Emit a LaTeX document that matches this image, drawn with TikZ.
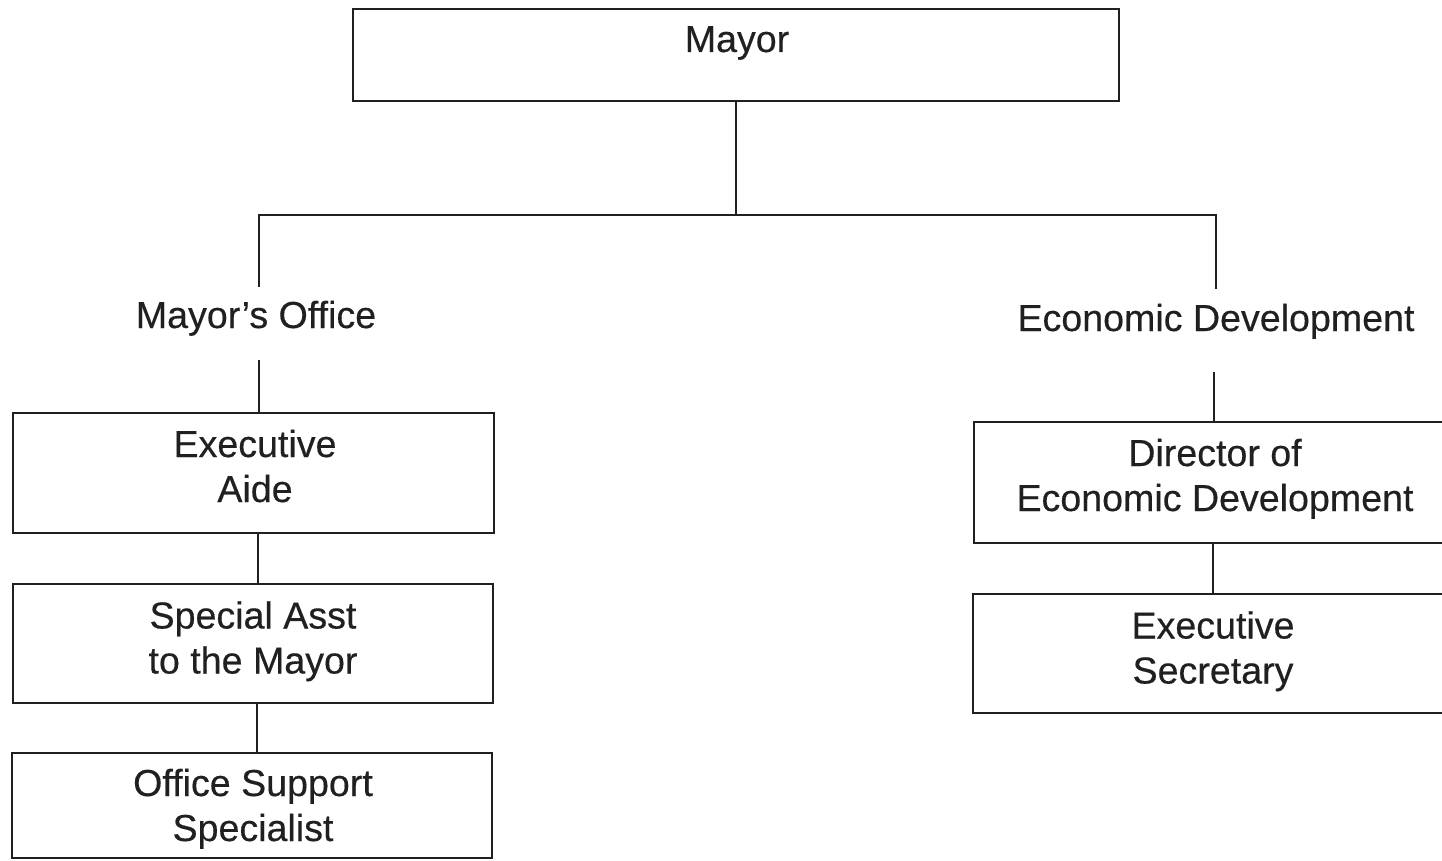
\documentclass[tikz,border=0pt]{standalone}
\usepackage{fontspec}
\setmainfont{Liberation Sans}[FakeBold=0.35]
\definecolor{ink}{HTML}{202020}
\begin{document}
\begin{tikzpicture}[x=1pt,y=-1pt,
  box/.style={draw=ink, line width=2.6pt, inner sep=0pt, rectangle},
  lbl/.style={text=ink, inner sep=0pt, align=center, font=\fontsize{37.6}{45}\selectfont},
  link/.style={draw=ink, line width=2.6pt}]
\useasboundingbox (0,0) rectangle (1442,861);
\clip (0,0) rectangle (1442,861);
\fill[white] (0,0) rectangle (1442,861);

% top of the chart
\node[box, minimum width=766, minimum height=92] (mayor) at (736,55) {};
\node[lbl] (mayortxt) at (737,43) {Mayor\strut};

% the two branches
\node[lbl] (office) at (256,319) {Mayor’s Office\strut};
\node[lbl] (econ) at (1216,322) {Economic Development\strut};

% left column
\node[box, minimum width=481, minimum height=120] (aide) at (253.5,473) {};
\node[lbl] (aidetxt) at (255,470.5) {Executive\strut\\Aide\strut};
\node[box, minimum width=480, minimum height=119] (asst) at (253,643.5) {};
\node[lbl] (assttxt) at (253,642) {Special Asst\strut\\to the Mayor\strut};
\node[box, minimum width=480, minimum height=105] (oss) at (252,805.5) {};
\node[lbl] (osstxt) at (253,809.5) {Office Support\strut\\Specialist\strut};

% right column
\node[box, minimum width=526, minimum height=121] (dir) at (1237,482.5) {};
\node[lbl] (dirtxt) at (1215,479.5) {Director of\strut\\Economic Development\strut};
\node[box, minimum width=527, minimum height=119] (sec) at (1236.5,653.5) {};
\node[lbl] (sectxt) at (1213,652) {Executive\strut\\Secretary\strut};

% connectors
\coordinate (busL) at (259,215);
\coordinate (busR) at (1216,215);
\coordinate (dropL) at (259,287);
\coordinate (dropR) at (1216,289);
\coordinate (offB) at (259,360);
\coordinate (econB) at (1214,372);

\draw[link] (mayor.south) -- (mayor.south |- busL);
\draw[link] (dropL) -- (busL) -- (busR) -- (dropR);
\draw[link] (offB) -- (offB |- aide.north);
\draw[link] ([xshift=4.5]aide.south) -- ([xshift=4.5]aide.south |- asst.north);
\draw[link] ([xshift=4]asst.south) -- ([xshift=4]asst.south |- oss.north);
\draw[link] (econB) -- (econB |- dir.north);
\draw[link] ([xshift=-24]dir.south) -- ([xshift=-24]dir.south |- sec.north);
\end{tikzpicture}
\end{document}
